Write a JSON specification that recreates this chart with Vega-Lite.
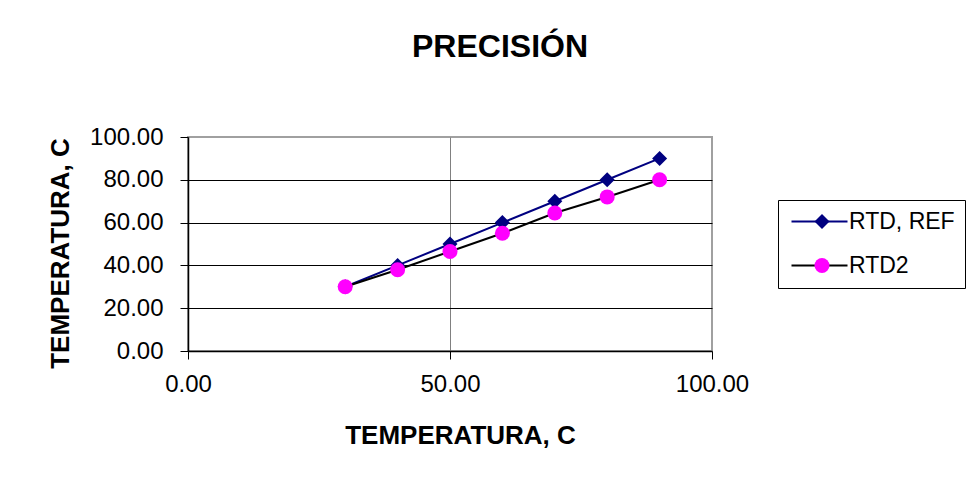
{
  "$schema": "https://vega.github.io/schema/vega-lite/v6.json",
  "width": 524,
  "height": 214,
  "autosize": {"type": "none"},
  "padding": {"left": 188, "top": 137, "right": 263, "bottom": 133},
  "background": "white",
  "title": {
    "text": "PRECISIÓN",
    "font": "Liberation Sans",
    "fontSize": 32,
    "fontWeight": "bold",
    "color": "black",
    "anchor": "middle",
    "frame": "group",
    "dx": 50,
    "baseline": "alphabetic",
    "offset": 36
  },
  "data": {
    "values": [
      {"serie": "RTD, REF", "temp_ref": 30, "temp": 30},
      {"serie": "RTD, REF", "temp_ref": 40, "temp": 40},
      {"serie": "RTD, REF", "temp_ref": 50, "temp": 50},
      {"serie": "RTD, REF", "temp_ref": 60, "temp": 60},
      {"serie": "RTD, REF", "temp_ref": 70, "temp": 70},
      {"serie": "RTD, REF", "temp_ref": 80, "temp": 80},
      {"serie": "RTD, REF", "temp_ref": 90, "temp": 90},
      {"serie": "RTD2", "temp_ref": 30, "temp": 30},
      {"serie": "RTD2", "temp_ref": 40, "temp": 38},
      {"serie": "RTD2", "temp_ref": 50, "temp": 46.5},
      {"serie": "RTD2", "temp_ref": 60, "temp": 55},
      {"serie": "RTD2", "temp_ref": 70, "temp": 64.5},
      {"serie": "RTD2", "temp_ref": 80, "temp": 72},
      {"serie": "RTD2", "temp_ref": 90, "temp": 80}
    ]
  },
  "encoding": {
    "x": {
      "field": "temp_ref",
      "type": "quantitative",
      "scale": {"domain": [0, 100], "nice": false, "zero": false},
      "axis": {
        "title": "TEMPERATURA, C",
        "values": [0, 50, 100],
        "format": ".2f",
        "labelFlush": false,
        "grid": true,
        "gridColor": {"condition": {"test": "datum.value === 0 || datum.value === 100", "value": "transparent"}, "value": "#808080"},
        "gridWidth": 1,
        "tickSize": 8,
        "labelPadding": 13,
        "titleX": 272,
        "titleY": 92,
        "titleBaseline": "alphabetic",
        "titleAlign": "center"
      }
    },
    "y": {
      "field": "temp",
      "type": "quantitative",
      "scale": {"domain": [0, 100], "nice": false, "zero": false},
      "axis": {
        "title": "TEMPERATURA, C",
        "values": [0, 20, 40, 60, 80, 100],
        "format": ".2f",
        "labelFlush": false,
        "grid": true,
        "gridColor": {"condition": {"test": "datum.value === 0 || datum.value === 100", "value": "transparent"}, "value": "#000000"},
        "gridWidth": 1,
        "tickSize": 8,
        "labelPadding": 17,
        "titleX": -120,
        "titleY": 116,
        "titleAngle": -90,
        "titleBaseline": "alphabetic",
        "titleAlign": "center"
      }
    }
  },
  "layer": [
    {
      "mark": {"type": "line", "strokeWidth": 2},
      "encoding": {
        "stroke": {
          "field": "serie",
          "type": "nominal",
          "scale": {"domain": ["RTD2", "RTD, REF"], "range": ["#000000", "#000080"]},
          "legend": {
            "title": null,
            "orient": "none",
            "legendX": 590,
            "legendY": 63,
            "values": ["RTD, REF", "RTD2"],
            "padding": 10,
            "strokeColor": "#000000",
            "fillColor": "white",
            "symbolType": "M-2.8,0H2.8",
            "symbolSize": 400,
            "symbolStrokeWidth": 2,
            "rowPadding": 20,
            "labelFont": "Liberation Sans",
            "labelFontSize": 23,
            "labelColor": "black",
            "labelOffset": 18,
            "symbolOffset": 20
          }
        }
      }
    },
    {
      "mark": {"type": "point", "filled": true, "opacity": 1, "size": 225},
      "encoding": {
        "shape": {
          "field": "serie",
          "type": "nominal",
          "scale": {"domain": ["RTD, REF", "RTD2"], "range": ["diamond", "circle"]}
        },
        "fill": {
          "field": "serie",
          "type": "nominal",
          "scale": {"domain": ["RTD, REF", "RTD2"], "range": ["#000080", "#ff00ff"]},
          "legend": {
            "title": null,
            "orient": "none",
            "legendX": 590,
            "legendY": 63,
            "padding": 10,
            "symbolSize": 225,
            "symbolOpacity": 1,
            "rowPadding": 20,
            "labelFont": "Liberation Sans",
            "labelFontSize": 23,
            "labelExpr": "''",
            "labelOpacity": 0,
            "labelOffset": 18,
            "symbolOffset": 22.5
          }
        }
      }
    }
  ],
  "config": {
    "font": "Liberation Sans",
    "view": {"stroke": "#a0a0a0", "strokeWidth": 2},
    "axis": {
      "domainColor": "#000000",
      "domainWidth": 1.5,
      "tickColor": "#000000",
      "tickWidth": 1,
      "labelFont": "Liberation Sans",
      "labelFontSize": 24,
      "labelColor": "#000000",
      "titleFont": "Liberation Sans",
      "titleFontSize": 26,
      "titleFontWeight": "bold",
      "titleColor": "#000000"
    }
  }
}
